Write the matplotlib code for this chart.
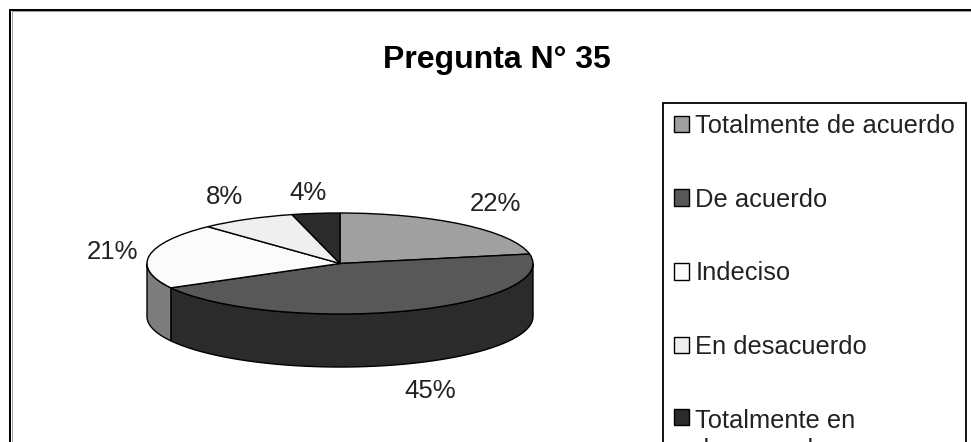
import numpy as np
import matplotlib.pyplot as plt
from matplotlib.patches import Rectangle

W, H = 971, 442
title = 'Pregunta N° 35'
categories = ['Totalmente de acuerdo', 'De acuerdo', 'Indeciso', 'En desacuerdo', 'Totalmente en\ndesacuerdo']
values = [22, 45, 21, 8, 4]
percent_labels = ['22%', '45%', '21%', '8%', '4%']
top_colors = ['#a0a0a0', '#585858', '#fbfbfb', '#efefef', '#2b2b2b']
wall_colors = ['#505050', '#2b2b2b', '#7d7d7d', '#787878', '#151515']

plt.rcParams['font.family'] = ['Liberation Sans', 'DejaVu Sans']

fig = plt.figure(figsize=(W / 100, H / 100), dpi=100, facecolor='white')

# outer frame, only top and left are in the crop
fig.add_artist(Rectangle((10 / W, -0.1), 1.2, 1.1 - 10 / H, transform=fig.transFigure,
                         fill=False, edgecolor='black', linewidth=1.44))
fig.add_artist(Rectangle((11.5 / W, -0.1), 1.2, 1.1 - 11.5 / H, transform=fig.transFigure,
                         fill=False, edgecolor='#a0a0a0', linewidth=0.72))

ax = fig.add_axes([147 / W, 1 - 314 / H, 386 / W, 101 / H])
wedges, _ = ax.pie(values, startangle=90, counterclock=False, radius=1, center=(0, 0),
                   colors=top_colors, wedgeprops={'edgecolor': 'black', 'linewidth': 1})
ax.set_aspect('auto')
ax.set_xlim(-1, 1)
ax.set_ylim(-1, 1)
for w in wedges:
    w.set_clip_on(False)
    w.set_zorder(3)

# side wall, only the part of each slice facing front
depth = 1.05
edges = 90 - np.cumsum([0] + values) * 3.6
for i in range(len(values)):
    a0, a1 = edges[i + 1] % 360, edges[i] % 360
    if a1 <= a0:
        a1 += 360
    for lo, hi in [(a0, a1), (a0 + 360, a1 + 360), (a0 - 360, a1 - 360)]:
        lo, hi = max(lo, 180), min(hi, 360)
        if hi <= lo:
            continue
        t = np.radians(np.linspace(lo, hi, 80))
        x = np.cos(t)
        y = np.sin(t)
        ax.fill(np.r_[x, x[::-1]], np.r_[y, y[::-1] - depth], facecolor=wall_colors[i],
                edgecolor='black', linewidth=1, clip_on=False, zorder=2)

label_px = [(495, 204), (430, 391), (112, 252), (224, 197), (308, 193)]
for (px, py), s in zip(label_px, percent_labels):
    fig.text(px / W, 1 - py / H, s, fontsize=18.5, ha='center', va='center', color='#222222')

fig.text(497 / W, 1 - 60 / H, title, fontsize=23, fontweight='bold', ha='center', va='center')

leg = fig.legend(wedges, categories, loc='upper left', bbox_to_anchor=(663 / W, 1 - 103 / H),
                 bbox_transform=fig.transFigure, prop={'size': 18.4}, frameon=True, fancybox=False,
                 edgecolor='black', facecolor='white', framealpha=1, borderaxespad=0,
                 handlelength=0.6, handleheight=0.6, handletextpad=0.24,
                 labelspacing=1.95, borderpad=0.42)
leg.get_frame().set_linewidth(1.3)
for t in leg.get_texts():
    t.set_color('#222222')
    t.set_linespacing(1.26)
# keep the marker next to the first line of the wrapped label
leg._legend_handle_box.get_children()[0].get_children()[-1].align = 'top'

fig.savefig('out.png', dpi=100)
